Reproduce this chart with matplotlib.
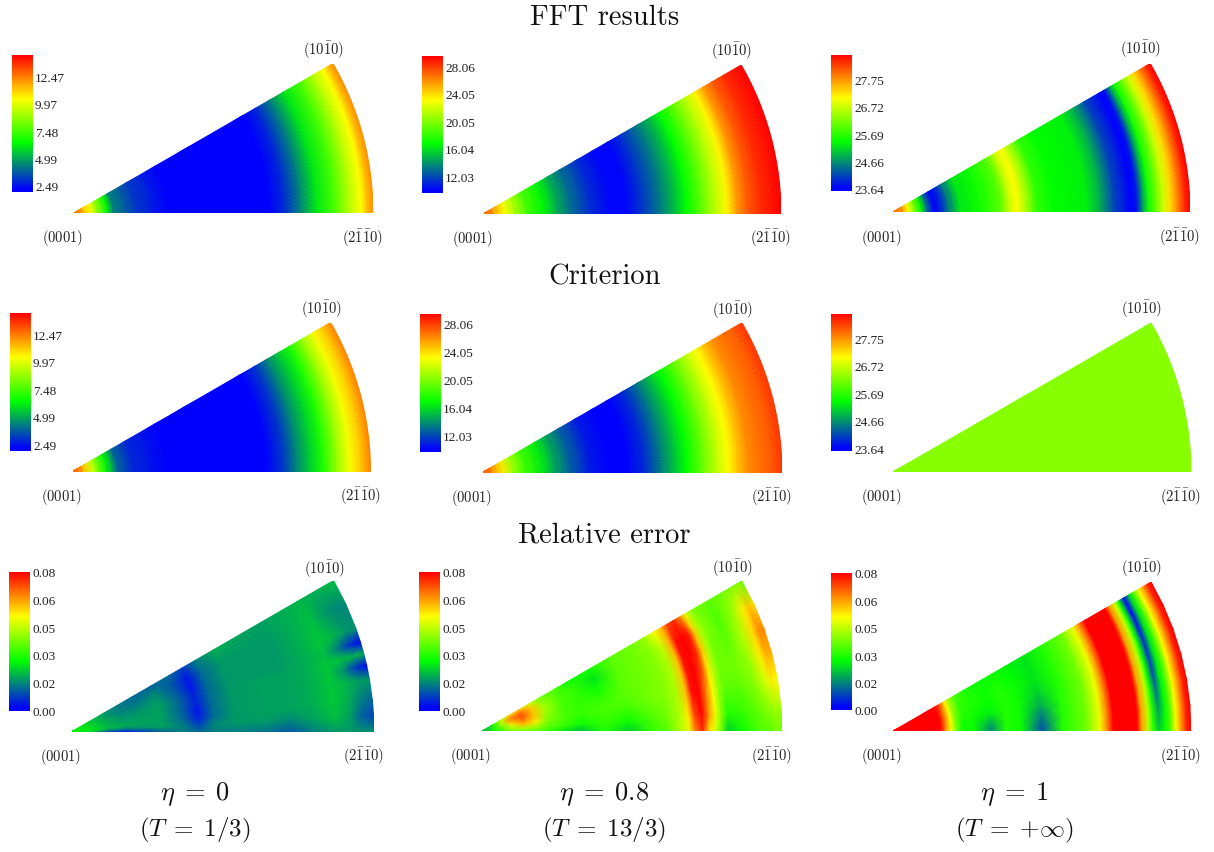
import matplotlib
matplotlib.use('Agg')
import matplotlib.pyplot as plt
from matplotlib.colors import LinearSegmentedColormap
import numpy as np

W, H = 1214, 853
plt.rcParams['mathtext.fontset'] = 'cm'

col_labels = [r'$\eta\;=\;0$', r'$\eta\;=\;0.8$', r'$\eta\;=\;1$']
col_sublabels = [r'$(T\;=\;1/3)$', r'$(T\;=\;13/3)$', r'$(T\;=\;{+}\infty)$']
row_titles = ['FFT results', 'Criterion', 'Relative error']

# colour bar ranges and ticks, one per column (first two rows)
ranges = [(1.94, 14.4), (9.64, 29.56), (23.53, 28.67)]
ticks = [[2.49, 4.99, 7.48, 9.97, 12.47],
         [12.03, 16.04, 20.05, 24.05, 28.06],
         [23.64, 24.66, 25.69, 26.72, 27.75]]
err_range = (0.0, 0.08)
err_ticks = [0.0, 0.016, 0.032, 0.048, 0.064, 0.08]
err_ticklabels = ['0.00', '0.02', '0.03', '0.05', '0.06', '0.08']

# angles of the rows for the maps that only change with r
ring_t = list(range(0, 31))

# radial profiles, r is a fraction of the sector radius
fft1_r = [0, .03, .054, .076, .11, .13, .2, .31, .42, .65, .70, .757, .81, .87, .925, .96, .98, 1]
fft1_v = [13.4, 11.3, 10.4, 8.8, 6.3, 4.4, 3.2, 2.2, 1.94, 1.94, 2.9, 4.4, 6.05, 7.55, 9.4, 10.4, 11.4, 12.2]
fft2_r = [0, .03, .065, .1, .14, .2, .245, .29, .357, .42, .48, .536, .6, .65, .68, .74, .78, .817, .85, .885, .93, 1]
fft2_v = [27.6, 25.6, 23.2, 21.2, 18.6, 16.6, 14.6, 13.0, 11.2, 10.2, 10.2, 11.6, 13.6, 15.4, 16.8, 19.6, 21.6, 23.4, 25.6, 27.2, 28.4, 29.56]
fft3_r = [0, .034, .05, .073, .095, .112, .135, .157, .185, .225, .29, .36, .393, .416, .44, .483, .54, .65,
          .697, .742, .8, .82, .843, .86, .888, .91, .933, .96, .983, 1]
fft3_v = [28.16, 27.54, 27.03, 26.1, 25.33, 24.46, 23.68, 23.84, 24.46, 25.23, 25.48, 25.95, 26.72, 27.03, 26.61,
          25.69, 25.38, 25.28, 24.82, 24.15, 23.63, 23.79, 24.82, 25.48, 26.1, 26.72, 27.23, 27.85, 28.41, 28.67]

crit1_r = [0, .036, .064, .09, .114, .148, .2, .316, .43, .65, .708, .75, .8, .84, .887, .93, .965, 1]
crit1_v = [13.8, 11.3, 9.7, 7.8, 6.3, 3.9, 2.9, 2.2, 1.94, 1.94, 3.2, 4.4, 5.7, 6.9, 8.8, 10.3, 11.2, 12.4]
crit2_r = [0, .03, .065, .1, .14, .2, .24, .29, .357, .42, .48, .54, .6, .65, .68, .74, .79, .82, .85, .885, .93, .96, 1]
crit2_v = [27.97, 26, 23.6, 20.8, 18.4, 16.2, 14.4, 12.6, 10.8, 10, 10, 11.2, 13.6, 15.6, 16.8, 19.6, 22, 23.2, 24.6, 26, 26.8, 27.2, 28.2]
crit3_r = [0, .5, 1]
crit3_v = [26.26, 26.26, 26.26]

# relative error maps (in thousandths), one row per angle in degrees
err1_r = [0, .06, .12, .17, .23, .30, .37, .42, .47, .54, .65, .72, .80, .87, .92, .96, 1]
err1_t = [0, 3, 6, 10, 12.7, 15, 17.2, 20, 25, 30]
err1_v = [[30, 25, 10, 5, 8, 13, 15, 13, 15, 15, 14, 11, 15, 18, 18, 17, 17],
          [30, 25, 18, 15, 17, 19, 15, 9, 16, 18, 18, 16, 19, 22, 19, 12, 9],
          [30, 26, 21, 20, 19, 19, 13, 5, 13, 18, 19, 19, 20, 23, 20, 15, 12],
          [30, 26, 21, 19, 19, 19, 12, 4, 13, 18, 19, 19, 20, 23, 21, 19, 18],
          [30, 25, 20, 18, 18, 19, 12, 5, 13, 18, 19, 19, 20, 23, 17, 8, 2],
          [30, 25, 20, 18, 18, 19, 12, 5, 13, 18, 19, 19, 20, 23, 22, 21, 20],
          [30, 25, 20, 17, 17, 19, 12, 5, 13, 18, 18, 18, 20, 22, 15, 7, 2],
          [30, 25, 19, 16, 16, 18, 11, 4, 13, 18, 18, 18, 20, 23, 21, 18, 17],
          [30, 24, 18, 15, 14, 16, 10, 4, 13, 18, 18, 18, 20, 22, 18, 16, 16],
          [30, 24, 18, 15, 13, 12, 13, 8, 15, 20, 19, 19, 20, 21, 20, 21, 22]]

err2_r = [0, .04, .07, .1, .14, .18, .22, .28, .33, .41, .49, .57, .62, .66, .69, .71, .735, .76, .78, .8, .82, .87, .92, .96, .98, 1]
err2_t = [0, 4, 10, 15, 20, 25, 30]
err2_v = [[16, 28, 36, 42, 40, 38, 34, 26, 22, 32, 24, 34, 38, 46, 52, 66, 76, 56, 50, 38, 24, 30, 36, 38, 40, 40],
          [16, 30, 38, 44, 46, 44, 38, 34, 30, 34, 30, 36, 40, 46, 56, 72, 80, 64, 52, 42, 32, 34, 38, 42, 44, 44],
          [18, 32, 40, 50, 62, 56, 42, 36, 34, 36, 36, 40, 42, 46, 60, 78, 80, 66, 54, 44, 38, 38, 42, 50, 56, 54],
          [18, 32, 42, 58, 68, 60, 44, 36, 34, 34, 38, 40, 42, 46, 60, 78, 80, 72, 56, 46, 40, 40, 44, 56, 62, 62],
          [18, 32, 46, 64, 72, 60, 46, 36, 34, 30, 38, 40, 42, 46, 60, 78, 80, 76, 60, 46, 40, 38, 46, 58, 66, 66],
          [18, 32, 48, 66, 70, 60, 44, 36, 34, 26, 38, 40, 42, 48, 62, 78, 80, 78, 60, 46, 42, 36, 44, 56, 60, 58],
          [18, 32, 46, 58, 60, 50, 40, 36, 30, 30, 38, 40, 44, 54, 62, 72, 76, 66, 52, 44, 40, 38, 40, 42, 42, 38]]

err3_r = [0, .14, .16, .18, .196, .21, .235, .27, .33, .38, .43, .5, .57, .65, .695, .72, .74, .82, .835, .857, .873, .893, .913, .93, .95, .97, .985, 1]
err3_t = [0, 5, 10, 15, 20, 25, 30]
err3_v = [[80, 80, 80, 62, 52, 42, 30, 30, 16, 32, 30, 10, 32, 40, 53, 67, 80, 80, 64, 48, 34, 24, 30, 36, 54, 66, 76, 80],
          [80, 80, 80, 64, 52, 42, 30, 30, 20, 32, 30, 14, 32, 40, 53, 67, 80, 80, 64, 48, 32, 18, 28, 36, 54, 66, 76, 80],
          [80, 80, 80, 65, 54, 42, 32, 30, 27, 32, 30, 20, 32, 40, 53, 67, 80, 80, 64, 48, 30, 12, 28, 36, 54, 66, 76, 80],
          [80, 80, 80, 66, 54, 43, 33, 31, 29, 32, 30, 24, 32, 40, 53, 67, 80, 80, 64, 48, 30, 8, 27, 36, 54, 66, 76, 80],
          [80, 80, 80, 66, 54, 44, 34, 32, 30, 32, 30, 26, 32, 40, 53, 67, 80, 80, 64, 48, 30, 6, 26, 36, 54, 66, 76, 80],
          [80, 80, 80, 68, 55, 45, 35, 32, 30, 31, 29, 26, 32, 40, 53, 67, 80, 80, 65, 49, 30, 3, 25, 36, 54, 66, 76, 80],
          [80, 80, 80, 70, 56, 46, 36, 32, 30, 30, 28, 26, 32, 40, 53, 67, 80, 80, 66, 50, 30, 2, 24, 36, 54, 66, 76, 80]]

cmap = LinearSegmentedColormap.from_list('ipf', [(0, '#0000ff'), (0.02, '#0000ff'), (0.36, '#00ff00'),
                                                 (0.68, '#ffff00'), (1, '#ff0000')])

fig = plt.figure(figsize=(W / 100, H / 100), dpi=100)


def px_axes(x0, y0, x1, y1):
    # axes from a box given in image pixels, y downwards
    return fig.add_axes([x0 / W, 1 - y1 / H, (x1 - x0) / W, (y1 - y0) / H])


def px_text(x, y, s, **kw):
    fig.text(x / W, 1 - y / H, s, ha='center', va='center', **kw)


def draw_sector(apex_x, apex_y, R, r, theta, values, vrange):
    ax = px_axes(apex_x, apex_y + 1 - R * 0.5, apex_x + R, apex_y + 1)
    r = np.asarray(r)
    t = np.radians(theta)
    x = np.outer(np.cos(t), r)
    y = np.outer(np.sin(t), r)
    values = np.asarray(values)
    if values.ndim == 1:
        # same profile on every ring
        values = np.tile(values, (len(theta), 1))
    ax.pcolormesh(x, y, values, shading='gouraud', cmap=cmap, vmin=vrange[0], vmax=vrange[1])
    ax.set_xlim(0, 1)
    ax.set_ylim(0, 0.5)
    ax.axis('off')
    px_text(apex_x + R * 0.835, apex_y - 162.5, r'$(10\bar{1}0)$', fontsize=10.5, color='#222222')
    px_text(apex_x - 11, apex_y + 25.5, r'$(0001)$', fontsize=10.5, color='#222222')
    px_text(apex_x + R - 10, apex_y + 25, r'$(2\bar{1}\bar{1}0)$', fontsize=10.5, color='#222222')


def draw_bar(x0, y0, x1, y1, vrange, tick_vals, tick_labels=None):
    ax = px_axes(x0, y0, x1, y1)
    grad = np.linspace(0, 1, 256)[::-1].reshape(-1, 1)
    ax.imshow(grad, cmap=cmap, aspect='auto', extent=[0, 1, vrange[0], vrange[1]], vmin=0, vmax=1)
    ax.set_xticks([])
    ax.yaxis.tick_right()
    ax.set_yticks(tick_vals)
    if tick_labels is None:
        tick_labels = ['%.2f' % v for v in tick_vals]
    ax.set_yticklabels(tick_labels, fontfamily='Liberation Serif', fontsize=9.5, color='#222222')
    ax.tick_params(axis='y', length=0, pad=1.5)
    for s in ax.spines.values():
        s.set_visible(False)


# row 1
draw_sector(74, 213, 299, fft1_r, ring_t, fft1_v, ranges[0])
draw_sector(484, 213.5, 297, fft2_r, ring_t, fft2_v, ranges[1])
draw_sector(893, 212, 297, fft3_r, ring_t, fft3_v, ranges[2])
draw_bar(12, 56, 33, 193, ranges[0], ticks[0])
draw_bar(422, 57, 443, 194, ranges[1], ticks[1])
draw_bar(831, 56, 852, 192.5, ranges[2], ticks[2])

# row 2
draw_sector(72.5, 471.5, 298, crit1_r, ring_t, crit1_v, ranges[0])
draw_sector(482.5, 472.5, 299.5, crit2_r, ring_t, crit2_v, ranges[1])
draw_sector(893, 472, 298, crit3_r, ring_t, crit3_v, ranges[2])
draw_bar(10, 314, 31, 451.5, ranges[0], ticks[0])
draw_bar(420, 314.5, 441, 453, ranges[1], ticks[1])
draw_bar(831, 314.5, 852, 452, ranges[2], ticks[2])

# row 3
draw_sector(72, 731.5, 302, err1_r, err1_t, np.array(err1_v) / 1000, err_range)
draw_sector(482, 731, 300, err2_r, err2_t, np.array(err2_v) / 1000, err_range)
draw_sector(893, 731, 298, err3_r, err3_t, np.array(err3_v) / 1000, err_range)
draw_bar(9, 572.5, 30, 711.5, err_range, err_ticks, err_ticklabels)
draw_bar(419, 572.5, 440, 711.5, err_range, err_ticks, err_ticklabels)
draw_bar(831, 574, 852, 711, err_range, err_ticks, err_ticklabels)

# titles
for title, y in zip(row_titles, [18, 277, 535]):
    px_text(604.5, y, title, fontfamily='cmr10', fontsize=20.6, color='#111111')

for x, a, b in zip([195, 604, 1014], col_labels, col_sublabels):
    px_text(x, 794, a, fontsize=19, color='#111111')
    px_text(x, 830, b, fontsize=18, color='#111111')

fig.savefig('out.png', dpi=100)
